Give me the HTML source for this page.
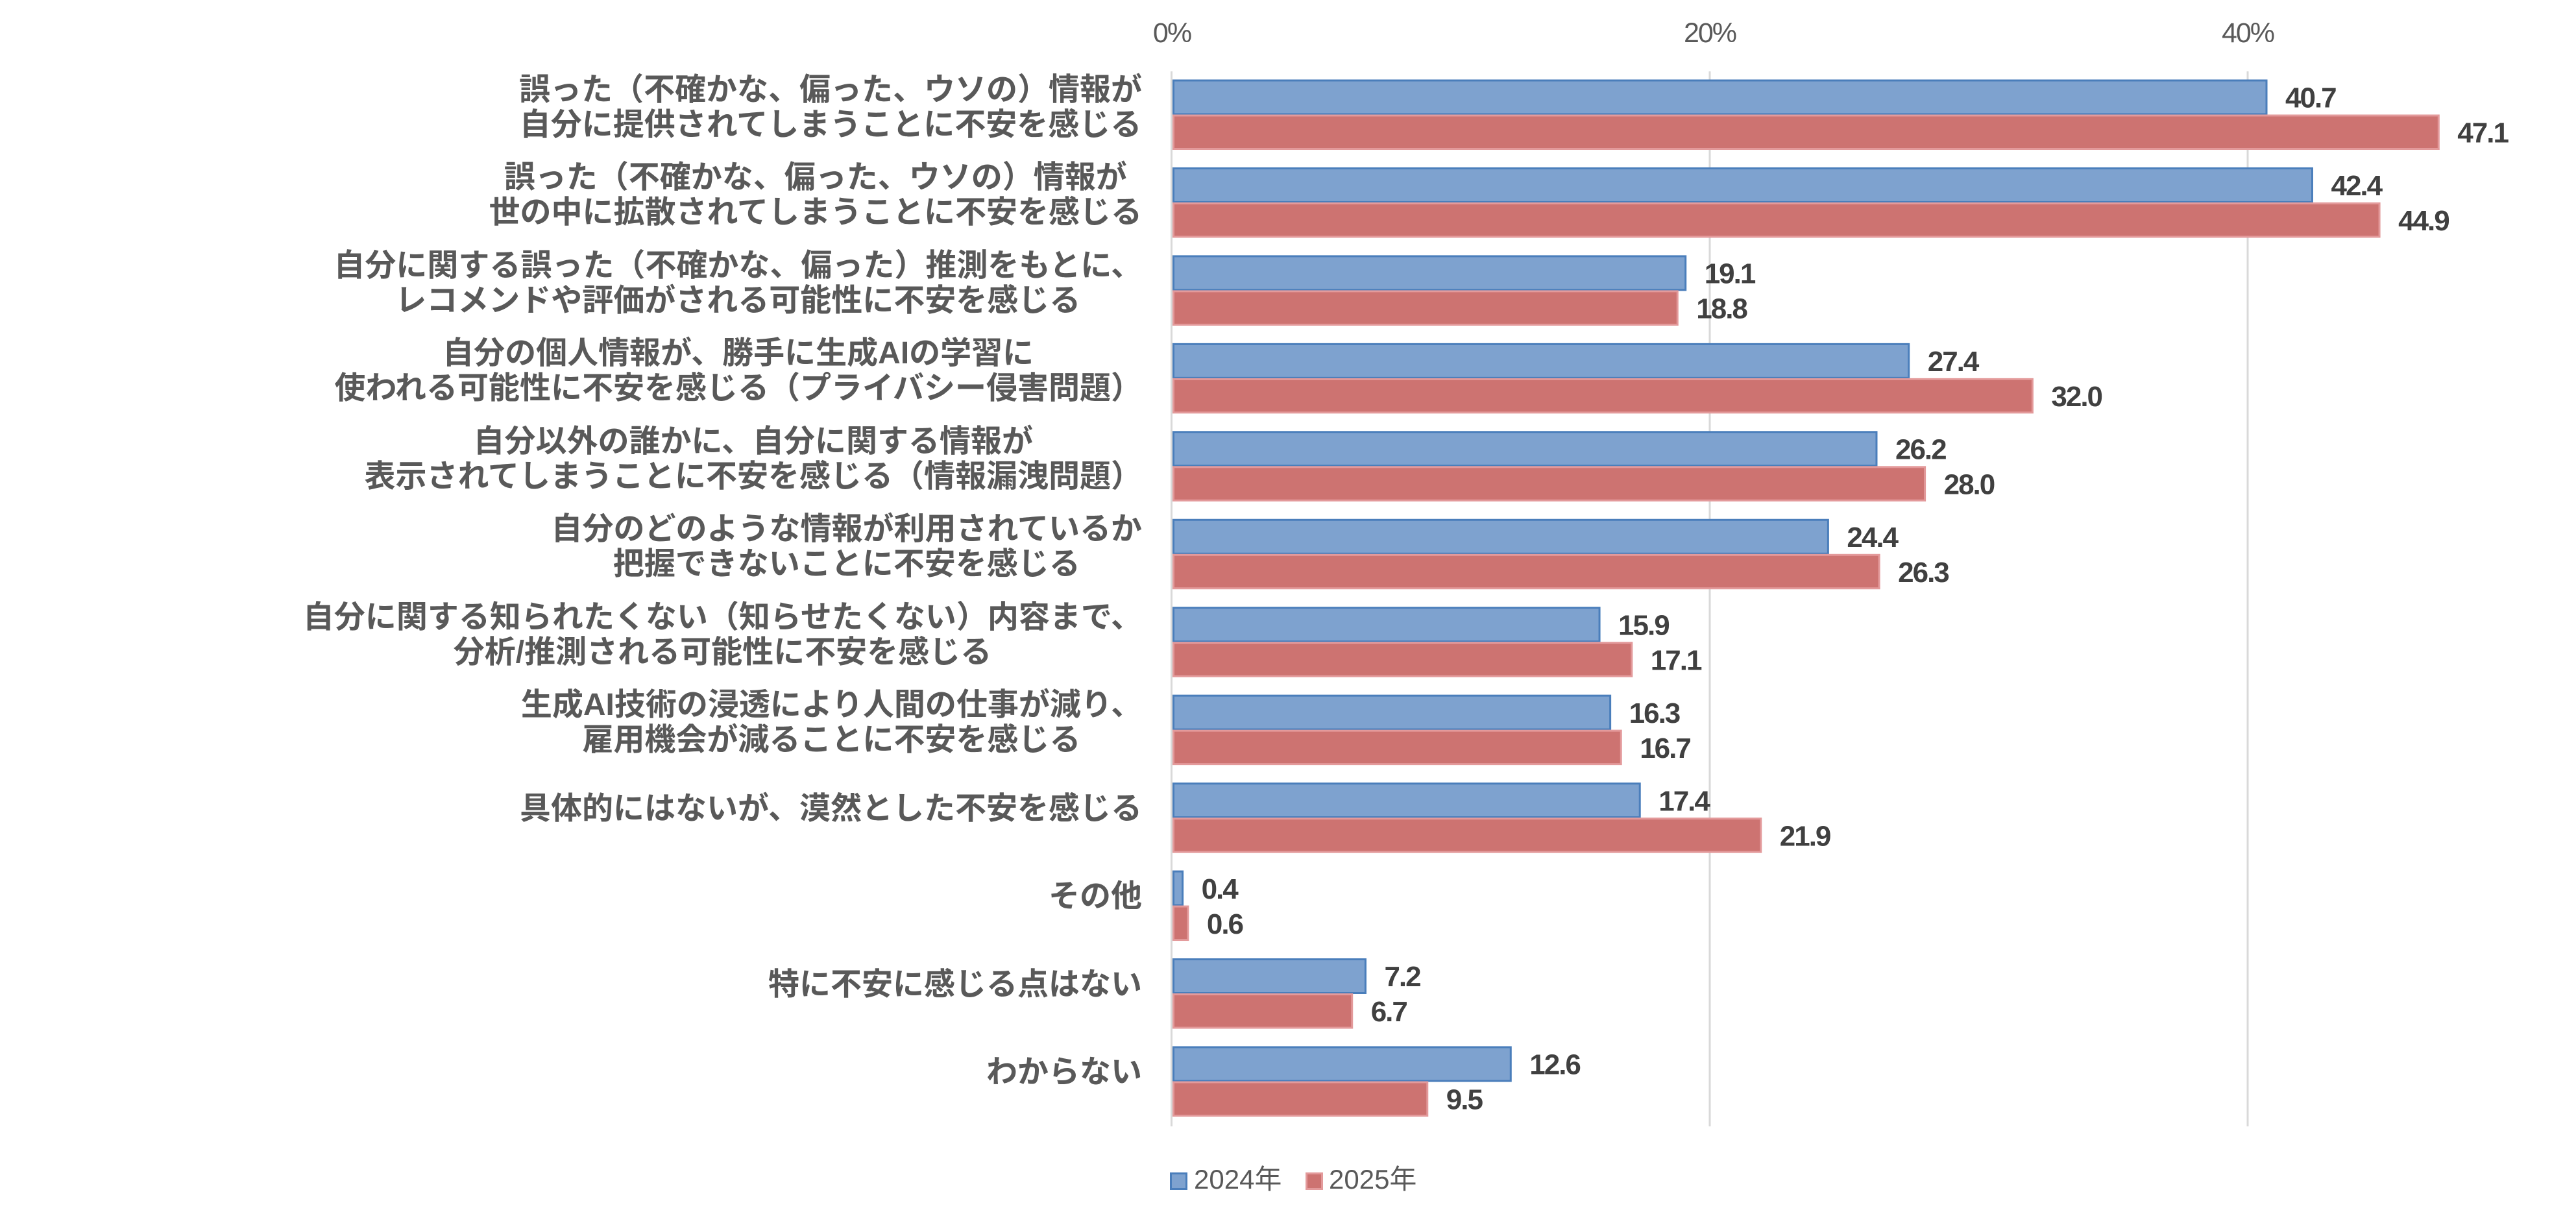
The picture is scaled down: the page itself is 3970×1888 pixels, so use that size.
<!DOCTYPE html>
<html>
<head>
<meta charset="utf-8">
<style>
html,body{margin:0;padding:0;background:#fff;}
body{width:3970px;height:1888px;position:relative;overflow:hidden;}
svg{position:absolute;left:0;top:0;}
.cat{position:absolute;right:2210px;text-align:center;white-space:nowrap;
 font-family:"Liberation Sans","Noto Sans CJK JP",sans-serif;font-weight:bold;
 font-size:48px;line-height:54px;color:#595959;}
</style>
</head>
<body>
<svg width="3970" height="1888" viewBox="0 0 3970 1888" xmlns="http://www.w3.org/2000/svg">
 <!-- gridlines -->
 <line x1="1805.5" y1="110" x2="1805.5" y2="1736" stroke="#D9D9D9" stroke-width="3"/>
 <line x1="2635" y1="110" x2="2635" y2="1736" stroke="#D9D9D9" stroke-width="3"/>
 <line x1="3464" y1="110" x2="3464" y2="1736" stroke="#D9D9D9" stroke-width="3"/>
 <!-- tick labels -->
 <g font-family="Liberation Sans, sans-serif" font-size="43" fill="#595959" text-anchor="middle" letter-spacing="-2">
  <text x="1806" y="65">0%</text>
  <text x="2635" y="65">20%</text>
  <text x="3464" y="65">40%</text>
 </g>
 <g id="bars"></g>
 <!-- legend -->
 <rect x="1804.5" y="1808.5" width="24" height="24" fill="#7EA2CF" stroke="#4A7EBB" stroke-width="3"/>
 <rect x="2013.5" y="1808.5" width="24" height="24" fill="#CD7371" stroke="#E39A9B" stroke-width="3"/>
 <g font-family="Liberation Sans, Noto Sans CJK JP, sans-serif" font-size="42" fill="#595959">
  <text x="1840" y="1832">2024年</text>
  <text x="2048" y="1832">2025年</text>
 </g>
</svg>
<div id="labels"></div>
<script>
(function(){
 var a=[40.7,42.4,19.1,27.4,26.2,24.4,15.9,16.3,17.4,0.4,7.2,12.6];
 var b=[47.1,44.9,18.8,32.0,28.0,26.3,17.1,16.7,21.9,0.6,6.7,9.5];
 var cats=[
  ["誤った（不確かな、偏った、ウソの）情報が","自分に提供されてしまうことに不安を感じる"],
  ["誤った（不確かな、偏った、ウソの）情報が","世の中に拡散されてしまうことに不安を感じる"],
  ["自分に関する誤った（不確かな、偏った）推測をもとに、","レコメンドや評価がされる可能性に不安を感じる"],
  ["自分の個人情報が、勝手に生成AIの学習に","使われる可能性に不安を感じる（プライバシー侵害問題）"],
  ["自分以外の誰かに、自分に関する情報が","表示されてしまうことに不安を感じる（情報漏洩問題）"],
  ["自分のどのような情報が利用されているか","把握できないことに不安を感じる"],
  ["自分に関する知られたくない（知らせたくない）内容まで、","分析/推測される可能性に不安を感じる"],
  ["生成AI技術の浸透により人間の仕事が減り、","雇用機会が減ることに不安を感じる"],
  ["具体的にはないが、漠然とした不安を感じる"],
  ["その他"],
  ["特に不安に感じる点はない"],
  ["わからない"]
 ];
 var NS="http://www.w3.org/2000/svg";
 var g=document.getElementById("bars");
 var X0=1806, K=41.45, P=135.45;
 function rect(x,y,w,h,f,s){var r=document.createElementNS(NS,"rect");
  r.setAttribute("x",x);r.setAttribute("y",y);r.setAttribute("width",Math.max(w,0.5));r.setAttribute("height",h);
  r.setAttribute("fill",f);r.setAttribute("stroke",s);r.setAttribute("stroke-width","3");g.appendChild(r);}
 function txt(x,y,s){var t=document.createElementNS(NS,"text");
  t.setAttribute("x",x);t.setAttribute("y",y);t.setAttribute("font-family","Liberation Sans, sans-serif");
  t.setAttribute("font-size","44");t.setAttribute("font-weight","bold");t.setAttribute("fill","#404040");
  t.setAttribute("letter-spacing","-2");t.textContent=s;g.appendChild(t);}
 var labels=document.getElementById("labels");
 for(var i=0;i<12;i++){
  var top=122.5+P*i;
  var wa=a[i]*K, wb=b[i]*K;
  rect(1808.5,top+1.5,wa-2.5,52,"#7EA2CF","#4A7EBB");
  rect(1808.5,top+55.5,wb-2.5,51.5,"#CD7371","#E39A9B");
  var ca=top+27.5, cb=top+81.5;
  txt(X0+wa+29,ca+15.7,a[i].toFixed(1));
  txt(X0+wb+29,cb+15.7,b[i].toFixed(1));
  var gc=177+P*i;
  var d=document.createElement("div");
  d.className="cat";
  var lines=cats[i];
  d.innerHTML=lines.join("<br>");
  var t0 = lines.length==1 ? gc-41 : gc-65;
  d.style.top=t0+"px";
  labels.appendChild(d);
 }
})();
</script>
</body>
</html>
